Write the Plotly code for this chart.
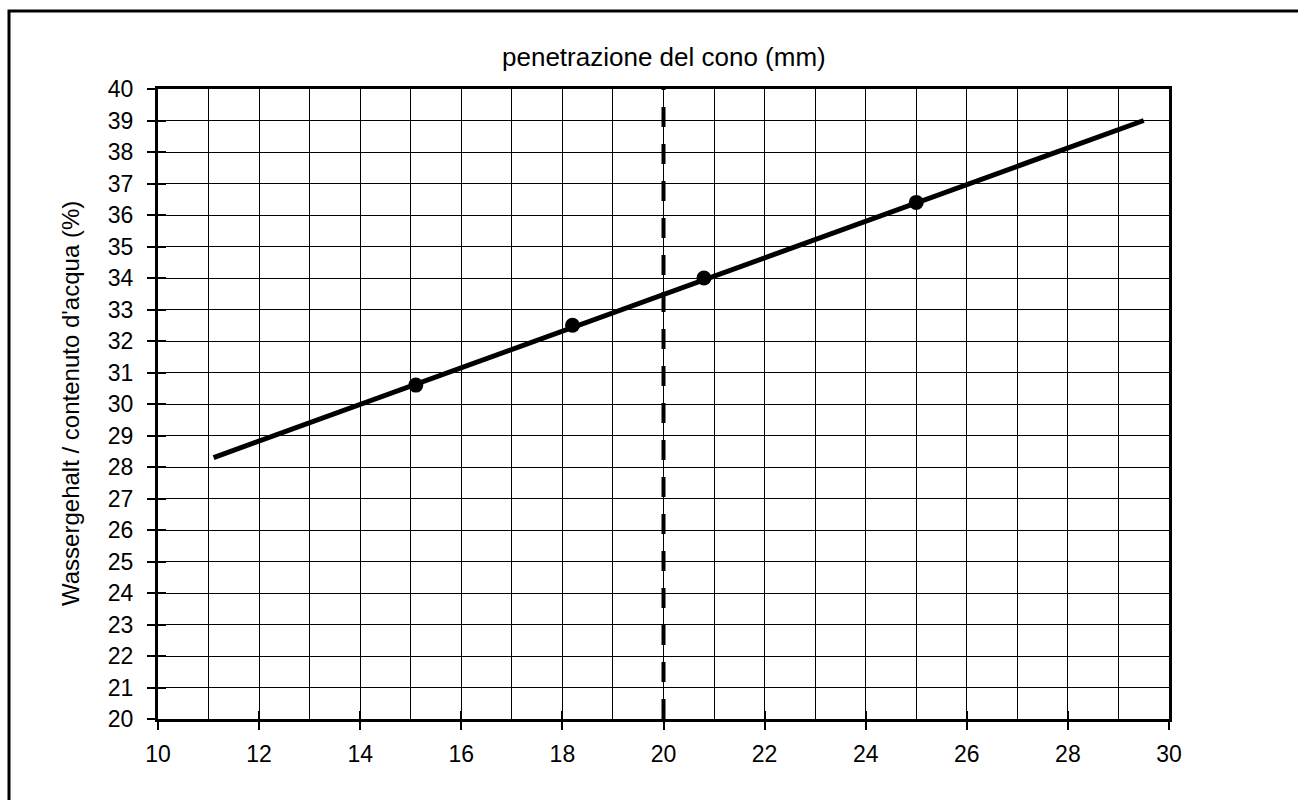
import plotly.graph_objects as go

# Data
pen_mm = [15.1, 18.2, 20.8, 25.0]
water_pct = [30.6, 32.5, 34.0, 36.4]
fit_x = [11.1, 29.5]
fit_y = [28.3, 39.0]
ref_x = [20, 20]
ref_y = [20, 40]

x_title = "penetrazione del cono (mm)"
y_title = "Wassergehalt / contenuto d'acqua (%)"

FONT = "Liberation Sans, Arial, Helvetica, sans-serif"

W, H = 1298, 800
L, R, T, B = 158, 129, 89, 81
pw, ph = W - L - R, H - T - B

def px2paper_x(px):
    return (px - L) / pw

def py2paper_y(py):
    return (H - B - py) / ph

fig = go.Figure()

fig.add_trace(go.Scatter(x=ref_x, y=ref_y, mode="lines",
                         line=dict(color="black", width=4, dash="20px,17px"),
                         showlegend=False, hoverinfo="skip"))
fig.add_trace(go.Scatter(x=fit_x, y=fit_y, mode="lines",
                         line=dict(color="black", width=5),
                         showlegend=False))
fig.add_trace(go.Scatter(x=pen_mm, y=water_pct, mode="markers",
                         marker=dict(color="black", size=15),
                         showlegend=False))
# invisible trace to activate overlay axes (inner half of crossing ticks)
fig.add_trace(go.Scatter(x=[10], y=[20], xaxis="x2", yaxis="y2", mode="markers",
                         marker=dict(opacity=0), showlegend=False, hoverinfo="skip"))

axis_common = dict(showline=True, linecolor="black", linewidth=3, mirror=True,
                   ticks="outside", ticklen=8, tickwidth=2, tickcolor="black",
                   showgrid=True, gridcolor="black", gridwidth=1, zeroline=False,
                   tickfont=dict(family=FONT, size=23, color="black"))

fig.update_layout(
    width=W, height=H,
    margin=dict(l=L, r=R, t=T, b=B),
    paper_bgcolor="white", plot_bgcolor="white",
    xaxis=dict(range=[10, 30], tickmode="linear", tick0=10, dtick=2,
               ticklabelstandoff=4,
               minor=dict(dtick=1, showgrid=True, gridcolor="black", gridwidth=1, ticks=""),
               **axis_common),
    yaxis=dict(range=[20, 40], tickmode="linear", tick0=20, dtick=1,
               ticklabelstandoff=9, **axis_common),
    xaxis2=dict(range=[10, 30], overlaying="x", tickmode="linear", tick0=10, dtick=2,
                ticks="inside", ticklen=8, tickwidth=2, tickcolor="black",
                showticklabels=False, showgrid=False, zeroline=False, showline=False),
    yaxis2=dict(range=[20, 40], overlaying="y", tickmode="linear", tick0=20, dtick=1,
                ticks="inside", ticklen=8, tickwidth=2, tickcolor="black",
                showticklabels=False, showgrid=False, zeroline=False, showline=False),
    font=dict(family=FONT, size=24, color="black"),
    annotations=[
        dict(text=x_title, xref="paper", yref="paper", x=0.5, y=py2paper_y(57),
             showarrow=False, xanchor="center", yanchor="middle",
             font=dict(family=FONT, size=26, color="black")),
        dict(text=y_title, xref="paper", yref="paper", x=px2paper_x(70), y=0.5,
             showarrow=False, xanchor="center", yanchor="middle", textangle=-90,
             font=dict(family=FONT, size=24, color="black")),
    ],
    shapes=[
        dict(type="rect", xref="paper", yref="paper",
             x0=px2paper_x(9), x1=px2paper_x(1320),
             y0=py2paper_y(830), y1=py2paper_y(11),
             line=dict(color="black", width=3), layer="above"),
    ],
)

fig.write_html("out.html")
